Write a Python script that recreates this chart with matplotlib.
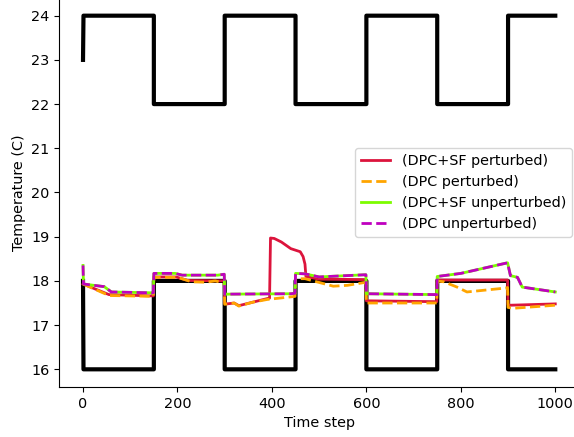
import numpy as np
import matplotlib
matplotlib.use("Agg")
import matplotlib.pyplot as plt

plt.rcParams['font.size'] = 10.4

# setpoint bounds (black)
bound_t = [0, 1, 150, 150, 300, 300, 450, 450, 600, 600, 750, 750, 900, 900, 1000]
upper_v = [23, 24, 24, 22, 22, 24, 24, 22, 22, 24, 24, 22, 22, 24, 24]
lower_v = [18, 16, 16, 18, 18, 16, 16, 18, 18, 16, 16, 18, 18, 16, 16]

# DPC+SF perturbed
sfp_t = [0, 55, 149, 150, 197, 222, 299, 300, 305, 320, 330, 360, 390, 395, 397,
         405, 420, 440, 460, 466, 470, 472, 500, 599, 600, 749, 750, 899, 900, 905, 1000]
sfp_v = [17.93, 17.69, 17.66, 18.09, 18.09, 18.01, 18.0, 17.5, 17.48, 17.5, 17.44, 17.52, 17.6, 17.61, 18.97,
         18.96, 18.88, 18.73, 18.66, 18.55, 18.38, 18.1, 18.04, 18.03, 17.55, 17.53, 18.02, 18.02, 17.46, 17.45, 17.48]

# DPC perturbed
dp_t = [0, 55, 149, 150, 200, 230, 260, 280, 299, 300, 320, 330, 360, 390, 449,
        450, 470, 530, 560, 599, 600, 749, 750, 764, 792, 813, 896, 899, 900, 910, 1000]
dp_v = [17.93, 17.67, 17.65, 18.08, 18.08, 17.98, 17.97, 18.0, 17.95, 17.47, 17.5, 17.43, 17.52, 17.58, 17.65,
        18.05, 18.05, 17.88, 17.9, 17.97, 17.5, 17.5, 18.0, 17.98, 17.86, 17.75, 17.84, 17.85, 17.4, 17.38, 17.45]

# DPC+SF unperturbed
sfu_t = [0, 1, 45, 60, 149, 150, 195, 210, 285, 299, 300, 440, 449, 450, 470, 500,
         599, 600, 749, 750, 800, 899, 905, 920, 930, 1000]
sfu_v = [18.35, 17.93, 17.87, 17.75, 17.73, 18.17, 18.17, 18.13, 18.13, 18.15, 17.70, 17.71, 17.72, 18.17, 18.16, 18.09,
         18.14, 17.71, 17.69, 18.10, 18.17, 18.41, 18.12, 18.08, 17.86, 17.75]

# DPC unperturbed
du_t = [0, 1, 45, 60, 149, 150, 195, 210, 285, 299, 300, 440, 449, 450, 470, 500,
        599, 600, 749, 750, 800, 899, 905, 920, 930, 1000]
du_v = [18.35, 17.93, 17.87, 17.75, 17.73, 18.17, 18.17, 18.13, 18.13, 18.15, 17.70, 17.71, 17.72, 18.17, 18.16, 18.09,
        18.14, 17.71, 17.69, 18.10, 18.17, 18.41, 18.12, 18.08, 17.86, 17.75]

fig = plt.figure(figsize=(5.74, 4.37), dpi=100)
# axes runs slightly past the top and right edge of the image (cropped original)
ax = fig.add_axes([59.4 / 574, 50 / 437, 519.5 / 574, 389 / 437])

ax.plot(bound_t, upper_v, color='black', linewidth=3)
ax.plot(bound_t, lower_v, color='black', linewidth=3)

ax.plot(sfp_t, sfp_v, color='crimson', linewidth=2, label='(DPC+SF perturbed)')
ax.plot(dp_t, dp_v, color='orange', linestyle='--', linewidth=2, label='(DPC perturbed)')
ax.plot(sfu_t, sfu_v, color='lawngreen', linewidth=2, label='(DPC+SF unperturbed)')
ax.plot(du_t, du_v, color='m', linestyle='--', linewidth=2, label='(DPC unperturbed)')

ax.set_xlim(-50, 1050)
ax.set_ylim(15.6, 24.4)
ax.set_xlabel('Time step')
ax.set_ylabel('Temperature (C)')
ax.legend(loc='center right')

fig.savefig('out.png', dpi=100)
plt.close()
